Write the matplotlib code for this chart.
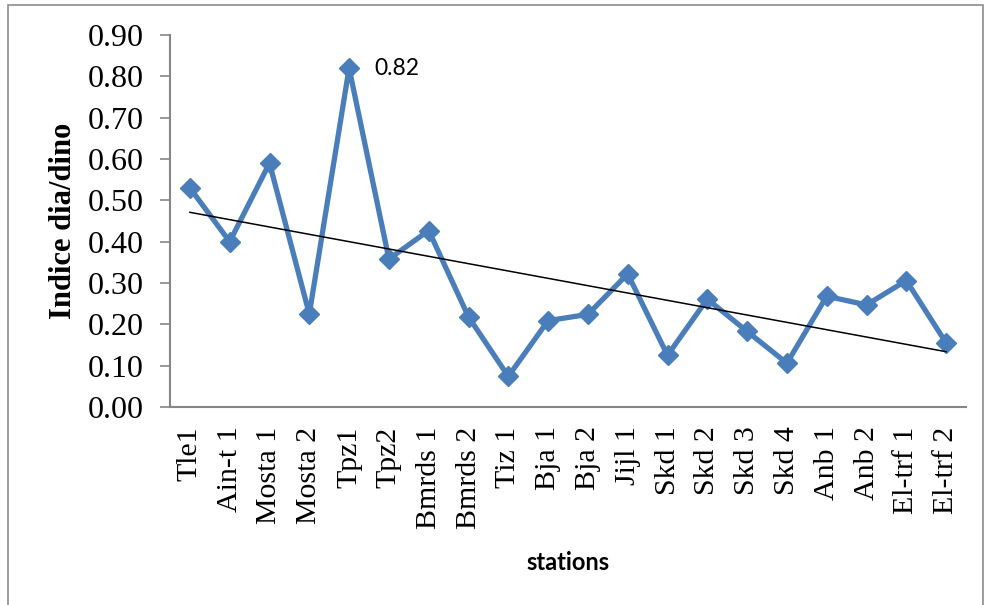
import matplotlib
matplotlib.use("Agg")
import matplotlib.pyplot as plt
import numpy as np
from matplotlib.patches import Rectangle

stations = ["Tle1", "Ain-t 1", "Mosta 1", "Mosta 2", "Tpz1", "Tpz2", "Bmrds 1",
            "Bmrds 2", "Tiz 1", "Bja 1", "Bja 2", "Jijl 1", "Skd 1", "Skd 2",
            "Skd 3", "Skd 4", "Anb 1", "Anb 2", "El-trf 1", "El-trf 2"]
indice = [0.53, 0.40, 0.59, 0.225, 0.82, 0.358, 0.427, 0.218, 0.074, 0.209,
          0.224, 0.322, 0.125, 0.261, 0.183, 0.106, 0.268, 0.247, 0.306, 0.155]
yticks = [0.0, 0.1, 0.2, 0.3, 0.4, 0.5, 0.6, 0.7, 0.8, 0.9]

W, H = 988, 605
fig = plt.figure(figsize=(W / 100, H / 100), dpi=100)
ax = fig.add_axes([170 / W, 1 - 407 / H, (966 - 170) / W, (407 - 35) / H])

x = np.arange(len(stations))
blue = "#4a7ebb"
ax.plot(x, indice, color=blue, lw=3.8, marker="D", markersize=10.5,
        markerfacecolor=blue, markeredgecolor=blue, zorder=3)

# linear trend line
coef = np.polyfit(x, indice, 1)
ax.plot(x, np.polyval(coef, x), color="black", lw=1.1, zorder=4)

imax = int(np.argmax(indice))
ax.annotate(f"{indice[imax]:.2f}", (x[imax], indice[imax]), xytext=(18, 0),
            textcoords="offset points", va="center", ha="left",
            fontsize=16.5, family="Lato")

ax.set_xlim(-0.5, len(stations) - 0.5)
ax.set_ylim(0, 0.9)
ax.set_yticks(yticks)
ax.set_yticklabels([f"{v:.2f}" for v in yticks], family="Liberation Serif", fontsize=23)
ax.set_xticks(x)
ax.set_xticklabels(stations, rotation=90, family="Liberation Serif", fontsize=21.5)
ax.tick_params(axis="x", length=0, pad=14)
ax.tick_params(axis="y", length=7, width=1.2, color="#868686", direction="out", pad=12)

for s in ["top", "right"]:
    ax.spines[s].set_visible(False)
for s in ["left", "bottom"]:
    ax.spines[s].set_color("#868686")
    ax.spines[s].set_linewidth(1.5)

ax.set_ylabel("Indice dia/dino", family="Liberation Serif", fontsize=22, fontweight="bold")
ax.yaxis.set_label_coords(-0.115, 0.5)

fig.text(568 / W, 1 - 562 / H, "stations", ha="center", va="center",
         family="Lato", fontsize=17, fontweight="bold")

fig.patches.append(Rectangle((8 / W, -0.05), (983 - 8) / W, 1 - 5 / H + 0.05,
                             transform=fig.transFigure, fill=False,
                             edgecolor="#8c8c8c", lw=1.2))

fig.savefig("out.png", dpi=100)
